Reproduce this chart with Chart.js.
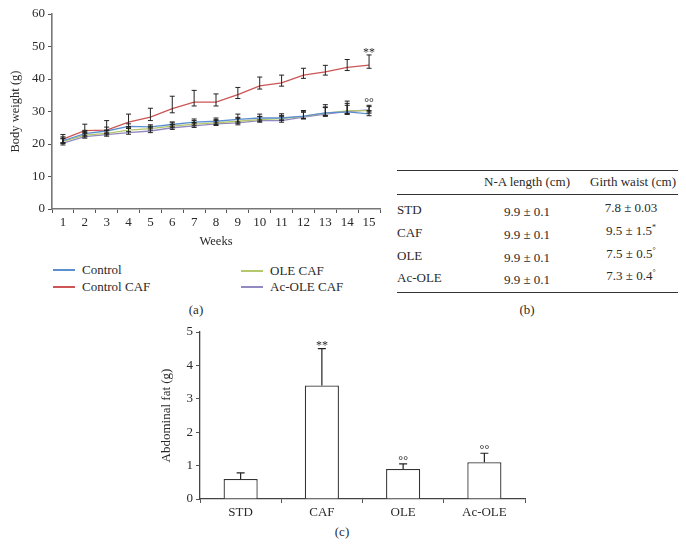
<!DOCTYPE html>
<html>
<head>
<meta charset="utf-8">
<script src="https://cdn.jsdelivr.net/npm/chart.js"></script>
<style>
    body { margin: 0; width: 686px; height: 546px; background: #fff; position: relative; overflow: hidden;
           font-family: 'Liberation Serif', 'DejaVu Serif', serif; color: #2a2a2a; }
    canvas { position: absolute; }
    .txt { position: absolute; white-space: nowrap; font-size: 13px; line-height: 16px; }
    .mid { transform: translate(-50%, -50%); }
    .left { transform: translateY(-50%); }
    .sw { position: absolute; width: 22px; height: 2px; }
    .rule { position: absolute; left: 397px; width: 281px; height: 1px; background: #333; }
    sup { font-size: 8px; vertical-align: 5px; line-height: 0; color: #2a2a2a; }
</style>
</head>
<body>
<canvas id="chartA" width="390" height="250" style="left:0;top:0"></canvas>
<canvas id="chartC" width="400" height="200" style="left:140px;top:320px"></canvas>

<!-- legend (a) -->
<div class="sw" style="left:53px;top:269px;background:#5b8fd0"></div>
<div class="txt left" style="left:82px;top:270px">Control</div>
<div class="sw" style="left:53px;top:286px;background:#cc5555"></div>
<div class="txt left" style="left:82px;top:287px">Control CAF</div>
<div class="sw" style="left:241px;top:270px;background:#b4c76b"></div>
<div class="txt left" style="left:270px;top:271px">OLE CAF</div>
<div class="sw" style="left:241px;top:286px;background:#9488c0"></div>
<div class="txt left" style="left:270px;top:287px">Ac-OLE CAF</div>
<div class="txt mid" style="left:196px;top:310px">(a)</div>

<!-- table (b) -->
<div class="rule" style="top:170px"></div>
<div class="rule" style="top:194px"></div>
<div class="rule" style="top:292px"></div>
<div id="tableB"></div>
<div class="txt mid" style="left:527px;top:310px">(b)</div>

<div class="txt mid" style="left:342px;top:532px">(c)</div>

<script>
    // (a) 체중 변화 데이터
    const weeks = ['1', '2', '3', '4', '5', '6', '7', '8', '9', '10', '11', '12', '13', '14', '15'];
    const control    = [21.0, 23.2, 24.0, 25.4, 25.3, 26.0, 26.7, 27.0, 27.6, 28.0, 28.0, 28.6, 29.6, 29.9, 29.3];
    const controlCaf = [21.5, 24.1, 24.3, 26.7, 28.3, 30.9, 32.9, 32.9, 35.2, 37.9, 38.8, 41.2, 42.2, 43.6, 44.3];
    const oleCaf     = [20.8, 22.7, 23.3, 24.3, 24.7, 25.5, 26.1, 26.5, 27.0, 27.5, 27.8, 28.5, 29.5, 30.2, 30.3];
    const acOleCaf   = [20.3, 22.3, 22.9, 23.5, 24.0, 25.0, 25.6, 26.2, 26.5, 27.2, 27.2, 28.3, 29.2, 30.0, 30.5];

    // error bars (up / down)
    const controlUp    = [1.2, 1.0, 1.2, 0.8, 0.6, 0.8, 1.0, 1.0, 1.6, 1.2, 1.3, 1.7, 1.6, 2.0, 1.0];
    const controlDown  = [0.6, 0.5, 0.6, 0.5, 0.4, 0.5, 0.5, 0.5, 0.8, 0.6, 0.6, 0.8, 0.8, 0.8, 0.6];
    const controlCafUp   = [1.4, 2.0, 2.9, 2.5, 2.7, 3.8, 3.6, 2.5, 2.2, 2.7, 2.4, 2.1, 2.0, 2.4, 3.1];
    const controlCafDown = [1.2, 0.6, 1.0, 1.4, 1.1, 1.3, 1.2, 1.2, 1.2, 1.0, 1.0, 1.0, 1.0, 1.0, 1.0];
    const oleCafUp     = [1.0, 1.2, 1.0, 1.0, 0.8, 1.0, 1.1, 1.0, 1.2, 1.0, 1.0, 1.4, 2.6, 3.0, 1.6];
    const oleCafDown   = [0.6, 0.5, 0.5, 0.5, 0.4, 0.5, 0.5, 0.5, 0.6, 0.5, 0.5, 0.6, 0.8, 0.8, 0.8];
    const acOleCafUp   = [1.3, 1.0, 1.2, 1.3, 1.2, 1.0, 1.0, 1.0, 1.4, 1.2, 1.2, 1.5, 2.2, 2.5, 1.0];
    const acOleCafDown = [0.6, 0.5, 0.5, 0.5, 0.5, 0.5, 0.5, 0.5, 0.6, 0.5, 0.5, 0.6, 0.7, 0.7, 0.6];

    // (b) 표 데이터
    const tableHeader = ['N-A length (cm)', 'Girth waist (cm)'];
    const tableGroups = ['STD', 'CAF', 'OLE', 'Ac-OLE'];
    const naLength    = ['9.9 ± 0.1', '9.9 ± 0.1', '9.9 ± 0.1', '9.9 ± 0.1'];
    const girthWaist  = ['7.8 ± 0.03', '9.5 ± 1.5', '7.5 ± 0.5', '7.3 ± 0.4'];
    const girthMarks  = ['', '*', '°', '°'];

    // (c) 복부 지방 데이터
    const fatGroups = ['STD', 'CAF', 'OLE', 'Ac-OLE'];
    const fatValues = [0.6, 3.4, 0.9, 1.1];
    const fatErr    = [0.18, 1.1, 0.15, 0.27];
    const fatMarks  = ['', '**', '°°', '°°'];

    const FONT = "'Liberation Serif', 'DejaVu Serif', serif";
    const INK = '#2a2a2a';

    // 표 그리기
    const tableEl = document.getElementById('tableB');
    let html = '';
    html += `<div class="txt mid" style="left:527px;top:182px">${tableHeader[0]}</div>`;
    html += `<div class="txt mid" style="left:633px;top:182px">${tableHeader[1]}</div>`;
    const rowY = [210, 233, 256, 278];
    tableGroups.forEach((g, i) => {
        html += `<div class="txt left" style="left:397px;top:${rowY[i]}px">${g}</div>`;
        html += `<div class="txt mid" style="left:527px;top:${rowY[i] + 2}px">${naLength[i]}</div>`;
        const sup = girthMarks[i] ? `<sup>${girthMarks[i]}</sup>` : '';
        html += `<div class="txt mid" style="left:631px;top:${rowY[i] - 2}px">${girthWaist[i]}${sup}</div>`;
    });
    tableEl.innerHTML = html;

    // 에러바 플러그인
    const errorBars = {
        id: 'errorBars',
        afterDatasetsDraw(chart, args, opts) {
            const ctx = chart.ctx;
            const y = chart.scales.y;
            ctx.save();
            ctx.strokeStyle = '#222';
            ctx.lineWidth = opts.width;
            chart.data.datasets.forEach((ds, di) => {
                if (!ds.errUp) return;
                const meta = chart.getDatasetMeta(di);
                meta.data.forEach((el, i) => {
                    const v = ds.data[i];
                    const top = y.getPixelForValue(v + ds.errUp[i]);
                    const bot = y.getPixelForValue(v - (ds.errDown ? ds.errDown[i] : 0));
                    const x = el.x;
                    const c = opts.cap;
                    ctx.beginPath();
                    ctx.moveTo(x, bot); ctx.lineTo(x, top);
                    ctx.moveTo(x - c, top); ctx.lineTo(x + c, top);
                    if (ds.errDown) { ctx.moveTo(x - c, bot); ctx.lineTo(x + c, bot); }
                    ctx.stroke();
                    // 유의성 표시
                    if (ds.marks && ds.marks[i]) {
                        ctx.fillStyle = INK;
                        ctx.font = '12px ' + FONT;
                        ctx.textAlign = 'center';
                        ctx.textBaseline = 'alphabetic';
                        ctx.fillText(ds.marks[i], x, top + opts.markShift);
                    }
                });
            });
            ctx.restore();
        }
    };

    const axisTicks = { color: INK, font: { family: FONT, size: 13 } };
    const axisGrid = { drawOnChartArea: false, tickLength: 4, color: '#555', lineWidth: 1 };
    const axisBorder = { color: '#777', width: 1.6 };

    const lastMark = (txt) => weeks.map((w, i) => i === weeks.length - 1 ? txt : '');

    new Chart(document.getElementById('chartA'), {
        type: 'line',
        data: {
            labels: weeks,
            datasets: [
                { label: 'Control', data: control, borderColor: '#5b8fd0', errUp: controlUp, errDown: controlDown },
                { label: 'Control CAF', data: controlCaf, borderColor: '#cc5555', errUp: controlCafUp, errDown: controlCafDown, marks: lastMark('**') },
                { label: 'OLE CAF', data: oleCaf, borderColor: '#b4c76b', errUp: oleCafUp, errDown: oleCafDown, marks: lastMark('°°') },
                { label: 'Ac-OLE CAF', data: acOleCaf, borderColor: '#9488c0', errUp: acOleCafUp, errDown: acOleCafDown }
            ]
        },
        options: {
            responsive: false,
            animation: false,
            layout: { padding: { top: 14, right: 10, left: 0, bottom: 0 } },
            elements: { point: { radius: 0 }, line: { borderWidth: 1.3, tension: 0 } },
            plugins: { legend: { display: false }, tooltip: { enabled: false }, errorBars: { cap: 2.5, markShift: 1, width: 1 } },
            scales: {
                x: {
                    offset: true,
                    grid: Object.assign({ offset: true }, axisGrid),
                    border: axisBorder,
                    ticks: Object.assign({ padding: 2, maxRotation: 0, autoSkip: false }, axisTicks),
                    title: { display: true, text: 'Weeks', color: INK, font: { family: FONT, size: 12.5 }, padding: { top: 2, bottom: 1 } },
                    afterFit(s) { s.height = 41; }
                },
                y: {
                    min: 0, max: 60,
                    grid: axisGrid,
                    border: axisBorder,
                    ticks: Object.assign({ stepSize: 10, padding: 3 }, axisTicks),
                    title: { display: true, text: 'Body weight (g)', color: INK, font: { family: FONT, size: 12.5 }, padding: { top: 8, bottom: 0 } },
                    afterFit(s) { s.width = 52; }
                }
            }
        },
        plugins: [errorBars]
    });

    new Chart(document.getElementById('chartC'), {
        type: 'bar',
        data: {
            labels: fatGroups,
            datasets: [{
                data: fatValues,
                backgroundColor: '#fff',
                borderColor: '#333',
                borderWidth: 1.3,
                barPercentage: 0.42,
                categoryPercentage: 1,
                errUp: fatErr,
                marks: fatMarks
            }]
        },
        options: {
            responsive: false,
            animation: false,
            layout: { padding: { top: 12, right: 15, left: 0, bottom: 0 } },
            plugins: { legend: { display: false }, tooltip: { enabled: false }, errorBars: { cap: 4, markShift: 0, width: 1.2 } },
            scales: {
                x: {
                    grid: Object.assign({ offset: true }, axisGrid),
                    border: { color: '#444', width: 1.3 },
                    ticks: Object.assign({ padding: 2, maxRotation: 0 }, axisTicks),
                    afterFit(s) { s.height = 21; }
                },
                y: {
                    min: 0, max: 5,
                    grid: axisGrid,
                    border: { color: '#444', width: 1.3 },
                    ticks: Object.assign({ stepSize: 1, padding: 3 }, axisTicks),
                    title: { display: true, text: 'Abdominal fat (g)', color: INK, font: { family: FONT, size: 13 }, padding: { top: 19, bottom: 0 } },
                    afterFit(s) { s.width = 60; }
                }
            }
        },
        plugins: [errorBars]
    });
</script>
</body>
</html>
